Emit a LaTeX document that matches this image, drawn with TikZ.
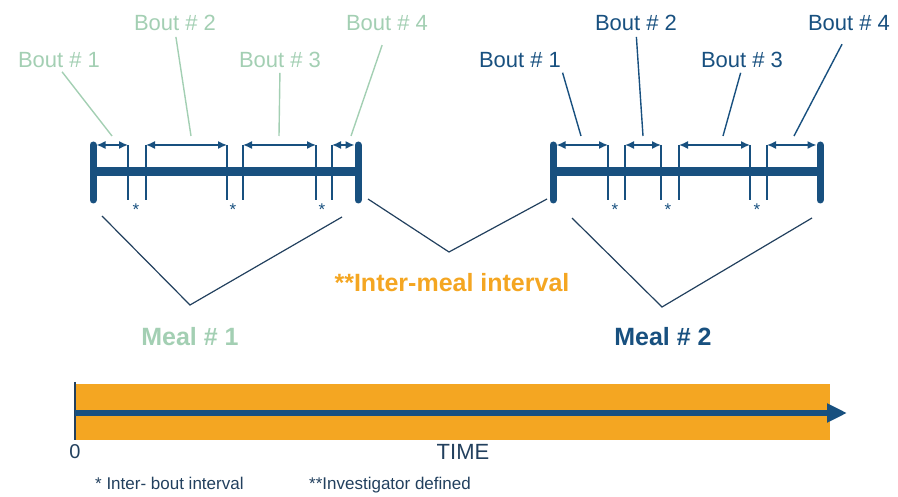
\documentclass[tikz,border=0pt]{standalone}
\usepackage{fontspec}
\setmainfont{Liberation Sans}
\usetikzlibrary{arrows.meta}
\definecolor{mealblue}{HTML}{18507F}
\definecolor{mealgreen}{HTML}{A3CFB3}
\definecolor{timeorange}{HTML}{F4A622}
\definecolor{notegray}{HTML}{22405E}
\tikzset{
  bar/.style={mealblue, line width=9pt},
  endbar/.style={mealblue, line width=7pt, line cap=round},
  tick/.style={mealblue, line width=1.4pt},
  bout/.style={mealblue, line width=1.5pt, {Latex[length=9pt,width=8pt]}-{Latex[length=9pt,width=8pt]}},
  vline/.style={notegray, line width=1.2pt},
  lead/.style={line width=1.4pt},
  boutlab/.style={font=\fontsize{22}{24}\selectfont, inner sep=0pt},
  meallab/.style={font=\fontsize{25}{28}\selectfont\bfseries, inner sep=0pt},
  star/.style={mealblue, font=\fontsize{17}{17}\selectfont, inner sep=0pt},
  note/.style={notegray, font=\fontsize{17}{19}\selectfont, inner sep=0pt},
}
\begin{document}
\begin{tikzpicture}[x=1pt,y=-1pt]
\useasboundingbox (0,0) rectangle (898,497);
% meal 1
\draw[bar] (93,172) -- (358,172);
\draw[endbar] (93,145) -- (93,200);
\draw[endbar] (358,145) -- (358,200);
\foreach \x in {128,146,227,243,316,332}
  {\draw[tick] (\x,145) -- (\x,200);}
\foreach \a/\b in {96.5/128,146/227,243/316,332/354.5}
  {\draw[bout] (\a,145) -- (\b,145);}
\foreach \x in {136,233,322}
  {\node[star] at (\x,210) {*};}
% meal 2
\draw[bar] (553,172) -- (820,172);
\draw[endbar] (553,145) -- (553,200);
\draw[endbar] (820,145) -- (820,200);
\foreach \x in {608,625,661,679,750,767}
  {\draw[tick] (\x,145) -- (\x,200);}
\foreach \a/\b in {556.5/608,625/661,679/750,767/816.5}
  {\draw[bout] (\a,145) -- (\b,145);}
\foreach \x in {615,668,757}
  {\node[star] at (\x,210) {*};}
% bout labels
\foreach \n/\x/\y/\an/\ex/\ey/\s in {1/59/60/south/112/136/5,2/175/23/south/191/136/6,3/280/60/south/279/136/5,4/387/23/south/351/136/15}
{
  \node[boutlab, mealgreen] (ga\n) at (\x,\y) {Bout \# \n};
  \coordinate (gt\n) at (\ex,\ey);
  \draw[lead, mealgreen, shorten <=\s pt] (ga\n.\an) -- (gt\n);
}
\foreach \n/\x/\y/\an/\ex/\ey/\s in {1/520/60/south east/581/136/5,2/636/23/south/643/136/6,3/742/60/south/723/136/5,4/849/23/south/794/136/15}
{
  \node[boutlab, mealblue] (ba\n) at (\x,\y) {Bout \# \n};
  \coordinate (bt\n) at (\ex,\ey);
  \draw[lead, mealblue, shorten <=\s pt] (ba\n.\an) -- (bt\n);
}
% brackets
\draw[vline] (102,216) -- (190,305) -- (342,217);
\draw[vline] (368,199) -- (449,252) -- (547,199);
\draw[vline] (572,218) -- (662,307) -- (812,218);
\node[meallab, mealgreen] (meal1) at (190,337) {Meal \# 1};
\node[meallab, mealblue] (meal2) at (663,337) {Meal \# 2};
\node[meallab, timeorange] (gap) at (452,283) {**Inter-meal interval};
% time axis
\fill[timeorange] (75,384) rectangle (830,440);
\draw[notegray, line width=1.5pt] (75,382) -- (75,440);
\draw[mealblue, line width=6.5pt, -{Triangle[length=20pt,width=18pt]}] (75,413) -- (847,413);
\node[note, font=\fontsize{20}{22}\selectfont] (zero) at (75,452) {0};
\node[note, font=\fontsize{22}{24}\selectfont] (time) at (463,452) {TIME};
\node[note, anchor=base west] (fn1) at (95,489) {* Inter- bout interval};
\node[note, anchor=base west] (fn2) at (309,489) {**Investigator defined};
\end{tikzpicture}
\end{document}
